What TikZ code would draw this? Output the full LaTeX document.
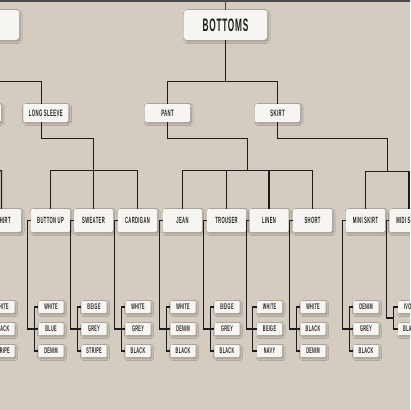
\documentclass[tikz,border=0pt]{standalone}
\usepackage{fontspec}
\newfontfamily\cond[FakeStretch=0.46,LetterSpace=4]{Liberation Sans}
\usetikzlibrary{calc,shadows.blur}
\definecolor{bgcol}{HTML}{D4CCC1}
\definecolor{cardfill}{HTML}{F7F5F1}
\definecolor{ink}{HTML}{1E1E1E}
\definecolor{wirecol}{HTML}{1C1C1C}
\definecolor{topwirecol}{HTML}{4A4A4A}
\newcommand\threeleaves[4]{%
  \node[leaf] (#1-1) at ($(#1.center)+(0.5,86.5)$) {#2};
  \node[leaf] (#1-2) at ($(#1.center)+(0.5,108.5)$) {#3};
  \node[leaf] (#1-3) at ($(#1.center)+(0.5,130.5)$) {#4};
  \draw[wire] (#1.west) -- ++(-3,0) |- (#1-2.west);
  \draw[wire] (#1-1.west) -- ++(-4,0) |- (#1-3.west);
}
\begin{document}
\begin{tikzpicture}[x=1pt,y=-1pt,
  card/.style={fill=cardfill, draw=none, inner sep=0pt, text=ink,
    blur shadow={shadow xshift=1.2pt, shadow yshift=-1.6pt, shadow blur radius=2pt, shadow blur steps=6, shadow opacity=30}},
  cat/.style={card, minimum width=83pt, minimum height=30pt, rounded corners=3pt, font=\cond\bfseries\fontsize{18}{18}\selectfont},
  sub/.style={card, minimum width=45pt, minimum height=18pt, rounded corners=1.5pt, font=\cond\bfseries\fontsize{9.3}{9.3}\selectfont},
  item/.style={card, minimum width=39pt, minimum height=23pt, rounded corners=1.5pt, font=\cond\bfseries\fontsize{9}{9}\selectfont},
  leaf/.style={card, minimum width=25pt, minimum height=12pt, rounded corners=1pt, font=\cond\bfseries\fontsize{8.2}{8.2}\selectfont},
  wire/.style={draw=wirecol, line width=1.2pt},
  topwire/.style={draw=topwirecol, line width=1.5pt}
]
\useasboundingbox (0,0) rectangle (410,410);
\clip (0,0) rectangle (410,410);
\fill[bgcol] (0,0) rectangle (410,410);

% level 1
\node[cat] (bottoms) at (225.5,25) {BOTTOMS};
\node[cat] (tops) at (-22.5,25) {};
% level 2
\node[sub] (ss) at (-21.5,113) {};
\node[sub] (ls) at (45.8,113) {LONG SLEEVE};
\node[sub] (pant) at (167.5,113) {PANT};
\node[sub] (skirt) at (277.5,113) {SKIRT};
% level 3
\node[item] (tshirt) at (1.5,220.5) {T-SHIRT};
\node[item] (button) at (50.5,220.5) {BUTTON UP};
\node[item] (sweater) at (93.5,220.5) {SWEATER};
\node[item] (cardigan) at (137.5,220.5) {CARDIGAN};
\node[item] (jean) at (182.5,220.5) {JEAN};
\node[item] (trouser) at (226.5,220.5) {TROUSER};
\node[item] (linen) at (269,220.5) {LINEN};
\node[item] (short) at (312.5,220.5) {SHORT};
\node[item] (mini) at (365.5,220.5) {MINI SKIRT};
\node[item] (midi) at (409,220.5) {MIDI SKIRT};

% top connectors
\coordinate (topL) at (-60,1);
\coordinate (topR) at (470,1);
\draw[topwire] (topL) -- (topR);
\draw[topwire] (bottoms.north) -- (bottoms.north |- topL);
\draw[topwire] (tops.north) -- (tops.north |- topL);

% level 1 -> 2
\draw[wire] (bottoms.south) -- ++(0,42);
\draw[wire] (pant.north) -- ++(0,-22) -| (skirt.north);
\draw[wire] (tops.south) -- ++(0,42);
\draw[wire] (ss.north) -- ++(0,-22) -| ([xshift=-4pt]ls.north);

% level 2 -> 3
\draw[wire] ([xshift=-4pt]ls.south) -- ++(0,16) -| (sweater.north);
\draw[wire] (button.north) -- ++(0,-38) -| (cardigan.north);
\coordinate (pbar) at ($(jean.north)!.5!(short.north)+(0,-38)$);
\draw[wire] (pant.south) -- ++(0,16.5) -| (pbar);
\draw[wire] (jean.north) -- ++(0,-38) -| (short.north);
\draw[wire] (trouser.north) -- ++(0,-38);
\draw[wire] (linen.north) -- ++(0,-38);
\coordinate (sbar) at ($(mini.north)!.5!(midi.north)+(0,-37)$);
\draw[wire] (skirt.south) -- ++(0,16) -| (sbar);
\draw[wire] (mini.north) -- ++(0,-37) -| (midi.north);
\coordinate (ssbar) at (-40,171);
\draw[wire] (ss.south) -- ++(0,16) -| (ssbar);
\draw[wire] (tshirt.north) -- ++(0,-38) -- (ssbar);

% leaves
\threeleaves{tshirt}{WHITE}{BLACK}{STRIPE}
\threeleaves{button}{WHITE}{BLUE}{DENIM}
\threeleaves{sweater}{BEIGE}{GREY}{STRIPE}
\threeleaves{cardigan}{WHITE}{GREY}{BLACK}
\threeleaves{jean}{WHITE}{DENIM}{BLACK}
\threeleaves{trouser}{BEIGE}{GREY}{BLACK}
\threeleaves{linen}{WHITE}{BEIGE}{NAVY}
\threeleaves{short}{WHITE}{BLACK}{DENIM}
\threeleaves{mini}{DENIM}{GREY}{BLACK}
\node[leaf] (midi-1) at ($(midi.center)+(1.5,86.5)$) {IVORY};
\node[leaf] (midi-2) at ($(midi.center)+(1.5,108.5)$) {BLACK};
\draw[wire] (midi-1.west) -- ++(-4,0) |- (midi-2.west);
\coordinate (midij) at ($(midi-1.west)!.5!(midi-2.west)+(-4,0)$);
\draw[wire] (midi.west) -- ++(-3,0) |- (midij);
\end{tikzpicture}
\end{document}
